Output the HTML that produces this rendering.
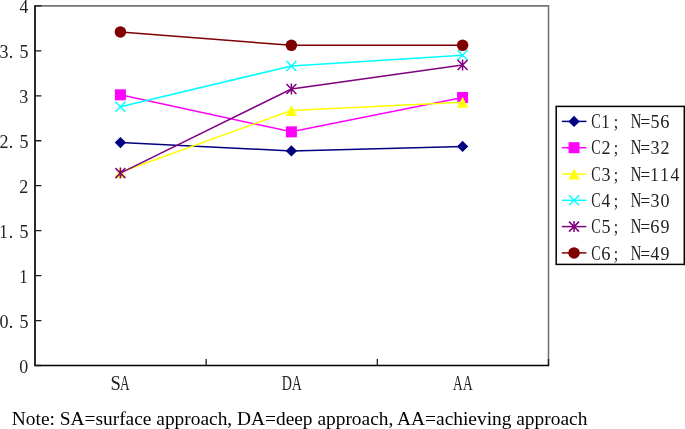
<!DOCTYPE html>
<html lang="en"><head><meta charset="utf-8"><title>Chart</title>
<style>
html,body{margin:0;padding:0;background:#fff}
body{width:685px;height:429px;overflow:hidden;position:relative}
#c{position:absolute;left:0;top:0;width:685px;height:429px;overflow:hidden;will-change:transform}
.m{position:absolute;height:24.5px;line-height:24.5px;white-space:pre;font-family:"Liberation Serif",serif;font-size:20.0px;color:#222;display:flex}
.m i{font-style:normal;display:flex;justify-content:center;width:var(--p);flex:none;height:24.5px;transform-origin:50% 19.0px}
.note{position:absolute;left:11.8px;top:408.4px;font-family:"Liberation Serif",serif;font-size:19.4px;line-height:22px;white-space:pre;color:#000}
</style></head>
<body><div id="c">
<svg width="685" height="429" viewBox="0 0 685 429" style="position:absolute;left:0;top:0">
<path d="M35.0 5.9H548.5V365.5" stroke="#747474" stroke-width="1.6" fill="none"/>
<path d="M35.0 5.2V365.5H549.2" stroke="#000" stroke-width="1.65" fill="none" stroke-linejoin="miter"/>
<path d="M35.0 5.90h6.4M35.0 50.85h6.4M35.0 95.80h6.4M35.0 140.75h6.4M35.0 185.70h6.4M35.0 230.65h6.4M35.0 275.60h6.4M35.0 320.55h6.4M35.0 365.50h6.4M206.17 365.5v-6.6M377.33 365.5v-6.6M548.50 365.5v-6.6" stroke="#1a1a1a" stroke-width="1.3" fill="none"/>
<polyline points="120.40,142.55 291.40,150.91 462.60,146.41" stroke="#000080" stroke-width="1.5" fill="none"/>
<polygon points="120.40,136.90 126.05,142.55 120.40,148.20 114.75,142.55" fill="#000080"/>
<polygon points="291.40,145.26 297.05,150.91 291.40,156.56 285.75,150.91" fill="#000080"/>
<polygon points="462.60,140.76 468.25,146.41 462.60,152.06 456.95,146.41" fill="#000080"/>
<polyline points="120.40,94.81 291.40,131.85 462.60,97.51" stroke="#ff00ff" stroke-width="1.5" fill="none"/>
<rect x="114.90" y="89.31" width="11.0" height="11.0" fill="#ff00ff"/>
<rect x="285.90" y="126.35" width="11.0" height="11.0" fill="#ff00ff"/>
<rect x="457.10" y="92.01" width="11.0" height="11.0" fill="#ff00ff"/>
<polyline points="120.40,172.22 291.40,110.54 462.60,102.27" stroke="#ffff00" stroke-width="1.5" fill="none"/>
<polygon points="120.40,166.72 125.90,177.72 114.90,177.72" fill="#ffff00"/>
<polygon points="291.40,105.04 296.90,116.04 285.90,116.04" fill="#ffff00"/>
<polygon points="462.60,96.77 468.10,107.77 457.10,107.77" fill="#ffff00"/>
<polyline points="120.40,106.68 291.40,65.95 462.60,55.17" stroke="#00ffff" stroke-width="1.5" fill="none"/>
<path d="M115.40 101.68L125.40 111.68M125.40 101.68L115.40 111.68" stroke="#00ffff" stroke-width="1.45" fill="none"/>
<path d="M286.40 60.95L296.40 70.95M296.40 60.95L286.40 70.95" stroke="#00ffff" stroke-width="1.45" fill="none"/>
<path d="M457.60 50.17L467.60 60.17M467.60 50.17L457.60 60.17" stroke="#00ffff" stroke-width="1.45" fill="none"/>
<polyline points="120.40,173.11 291.40,89.06 462.60,65.05" stroke="#800080" stroke-width="1.5" fill="none"/>
<path d="M115.40 168.11L125.40 178.11M125.40 168.11L115.40 178.11M120.40 167.61L120.40 178.61" stroke="#800080" stroke-width="1.5" fill="none"/>
<path d="M286.40 84.06L296.40 94.06M296.40 84.06L286.40 94.06M291.40 83.56L291.40 94.56" stroke="#800080" stroke-width="1.5" fill="none"/>
<path d="M457.60 60.05L467.60 70.05M467.60 60.05L457.60 70.05M462.60 59.55L462.60 70.55" stroke="#800080" stroke-width="1.5" fill="none"/>
<polyline points="120.40,31.88 291.40,45.37 462.60,45.37" stroke="#800000" stroke-width="1.5" fill="none"/>
<circle cx="120.40" cy="31.88" r="5.75" fill="#800000"/>
<circle cx="291.40" cy="45.37" r="5.75" fill="#800000"/>
<circle cx="462.60" cy="45.37" r="5.75" fill="#800000"/>
<rect x="556.2" y="106.4" width="128.0999999999999" height="157.99999999999997" fill="#fff" stroke="#000" stroke-width="1.5"/>
<path d="M561.8 121.40H586.4" stroke="#000080" stroke-width="1.5"/>
<polygon points="574.05,115.75 579.70,121.40 574.05,127.05 568.40,121.40" fill="#000080"/>
<path d="M561.8 147.70H586.4" stroke="#ff00ff" stroke-width="1.5"/>
<rect x="568.55" y="142.20" width="11.0" height="11.0" fill="#ff00ff"/>
<path d="M561.8 174.00H586.4" stroke="#ffff00" stroke-width="1.5"/>
<polygon points="574.05,168.50 579.55,179.50 568.55,179.50" fill="#ffff00"/>
<path d="M561.8 200.30H586.4" stroke="#00ffff" stroke-width="1.5"/>
<path d="M569.05 195.30L579.05 205.30M579.05 195.30L569.05 205.30" stroke="#00ffff" stroke-width="1.45" fill="none"/>
<path d="M561.8 226.60H586.4" stroke="#800080" stroke-width="1.5"/>
<path d="M569.05 221.60L579.05 231.60M579.05 221.60L569.05 231.60M574.05 221.10L574.05 232.10" stroke="#800080" stroke-width="1.5" fill="none"/>
<path d="M561.8 252.90H586.4" stroke="#800000" stroke-width="1.5"/>
<circle cx="574.05" cy="252.90" r="5.75" fill="#800000"/>
</svg>
<div class="m" style="left:18.75px;top:-6.00px;--p:9.6px"><i style="transform:translate(0px,0.4px) scale(0.88,0.966)">4</i></div>
<div class="m" style="left:-0.90px;top:39.00px;--p:9.78px"><i style="transform:translate(0px,0.4px) scale(0.9,0.966)">3</i><i style="transform:translate(-2.85px,0.4px) scale(0.9,0.966)">.</i><i style="transform:translate(0px,0.4px) scale(0.9,0.966)">5</i></div>
<div class="m" style="left:18.75px;top:84.00px;--p:9.6px"><i style="transform:translate(0px,0.4px) scale(0.9,0.966)">3</i></div>
<div class="m" style="left:-0.90px;top:129.00px;--p:9.78px"><i style="transform:translate(0px,0.4px) scale(0.9,0.966)">2</i><i style="transform:translate(-2.85px,0.4px) scale(0.9,0.966)">.</i><i style="transform:translate(0px,0.4px) scale(0.9,0.966)">5</i></div>
<div class="m" style="left:18.75px;top:174.00px;--p:9.6px"><i style="transform:translate(0px,0.4px) scale(0.9,0.966)">2</i></div>
<div class="m" style="left:-0.90px;top:219.00px;--p:9.78px"><i style="transform:translate(-0.3px,0.4px) scale(0.85,0.966)">1</i><i style="transform:translate(-2.85px,0.4px) scale(0.9,0.966)">.</i><i style="transform:translate(0px,0.4px) scale(0.9,0.966)">5</i></div>
<div class="m" style="left:18.75px;top:264.00px;--p:9.6px"><i style="transform:translate(-0.3px,0.4px) scale(0.85,0.966)">1</i></div>
<div class="m" style="left:-0.90px;top:309.00px;--p:9.78px"><i style="transform:translate(0px,0.4px) scale(0.9,0.966)">0</i><i style="transform:translate(-2.85px,0.4px) scale(0.9,0.966)">.</i><i style="transform:translate(0px,0.4px) scale(0.9,0.966)">5</i></div>
<div class="m" style="left:18.75px;top:354.00px;--p:9.6px"><i style="transform:translate(0px,0.4px) scale(0.9,0.966)">0</i></div>
<div class="m" style="left:110.70px;top:371.00px;--p:9.6px"><i style="transform:translate(0px,0.3px) scale(0.93,1.0)">S</i><i style="transform:translate(0px,0.3px) scale(0.67,1.0)">A</i></div>
<div class="m" style="left:282.10px;top:371.00px;--p:9.6px"><i style="transform:translate(0px,0.3px) scale(0.7,1.0)">D</i><i style="transform:translate(0px,0.3px) scale(0.67,1.0)">A</i></div>
<div class="m" style="left:453.10px;top:371.00px;--p:9.6px"><i style="transform:translate(0px,0.3px) scale(0.67,1.0)">A</i><i style="transform:translate(0px,0.3px) scale(0.67,1.0)">A</i></div>
<div class="m" style="left:590.80px;top:109.00px;--p:9.85px"><i style="transform:translate(0px,0.4px) scale(0.705,1.0)">C</i><i style="transform:translate(-0.3px,0.4px) scale(0.85,0.966)">1</i><i style="transform:translate(1.0px,0.4px) scale(0.8,0.966)">;</i><i> </i><i style="transform:translate(1.1px,0.4px) scale(0.73,1.0)">N</i><i style="transform:translate(0.3px,0.4px) scale(0.88,0.966)">=</i><i style="transform:translate(0px,0.4px) scale(0.9,0.966)">5</i><i style="transform:translate(0px,0.4px) scale(0.92,0.966)">6</i></div>
<div class="m" style="left:590.80px;top:135.00px;--p:9.85px"><i style="transform:translate(0px,0.4px) scale(0.705,1.0)">C</i><i style="transform:translate(0px,0.4px) scale(0.9,0.966)">2</i><i style="transform:translate(1.0px,0.4px) scale(0.8,0.966)">;</i><i> </i><i style="transform:translate(1.1px,0.4px) scale(0.73,1.0)">N</i><i style="transform:translate(0.3px,0.4px) scale(0.88,0.966)">=</i><i style="transform:translate(0px,0.4px) scale(0.9,0.966)">3</i><i style="transform:translate(0px,0.4px) scale(0.9,0.966)">2</i></div>
<div class="m" style="left:590.80px;top:162.00px;--p:9.85px"><i style="transform:translate(0px,0.4px) scale(0.705,1.0)">C</i><i style="transform:translate(0px,0.4px) scale(0.9,0.966)">3</i><i style="transform:translate(1.0px,0.4px) scale(0.8,0.966)">;</i><i> </i><i style="transform:translate(1.1px,0.4px) scale(0.73,1.0)">N</i><i style="transform:translate(0.3px,0.4px) scale(0.88,0.966)">=</i><i style="transform:translate(-0.3px,0.4px) scale(0.85,0.966)">1</i><i style="transform:translate(-0.3px,0.4px) scale(0.85,0.966)">1</i><i style="transform:translate(0px,0.4px) scale(0.88,0.966)">4</i></div>
<div class="m" style="left:590.80px;top:188.00px;--p:9.85px"><i style="transform:translate(0px,0.4px) scale(0.705,1.0)">C</i><i style="transform:translate(0px,0.4px) scale(0.88,0.966)">4</i><i style="transform:translate(1.0px,0.4px) scale(0.8,0.966)">;</i><i> </i><i style="transform:translate(1.1px,0.4px) scale(0.73,1.0)">N</i><i style="transform:translate(0.3px,0.4px) scale(0.88,0.966)">=</i><i style="transform:translate(0px,0.4px) scale(0.9,0.966)">3</i><i style="transform:translate(0px,0.4px) scale(0.9,0.966)">0</i></div>
<div class="m" style="left:590.80px;top:214.00px;--p:9.85px"><i style="transform:translate(0px,0.4px) scale(0.705,1.0)">C</i><i style="transform:translate(0px,0.4px) scale(0.9,0.966)">5</i><i style="transform:translate(1.0px,0.4px) scale(0.8,0.966)">;</i><i> </i><i style="transform:translate(1.1px,0.4px) scale(0.73,1.0)">N</i><i style="transform:translate(0.3px,0.4px) scale(0.88,0.966)">=</i><i style="transform:translate(0px,0.4px) scale(0.92,0.966)">6</i><i style="transform:translate(0px,0.4px) scale(0.9,0.966)">9</i></div>
<div class="m" style="left:590.80px;top:241.00px;--p:9.85px"><i style="transform:translate(0px,0.4px) scale(0.705,1.0)">C</i><i style="transform:translate(0px,0.4px) scale(0.92,0.966)">6</i><i style="transform:translate(1.0px,0.4px) scale(0.8,0.966)">;</i><i> </i><i style="transform:translate(1.1px,0.4px) scale(0.73,1.0)">N</i><i style="transform:translate(0.3px,0.4px) scale(0.88,0.966)">=</i><i style="transform:translate(0px,0.4px) scale(0.88,0.966)">4</i><i style="transform:translate(0px,0.4px) scale(0.9,0.966)">9</i></div>
<div class="note">Note: SA=surface approach, DA=deep approach, AA=achieving approach</div>
</div></body></html>
